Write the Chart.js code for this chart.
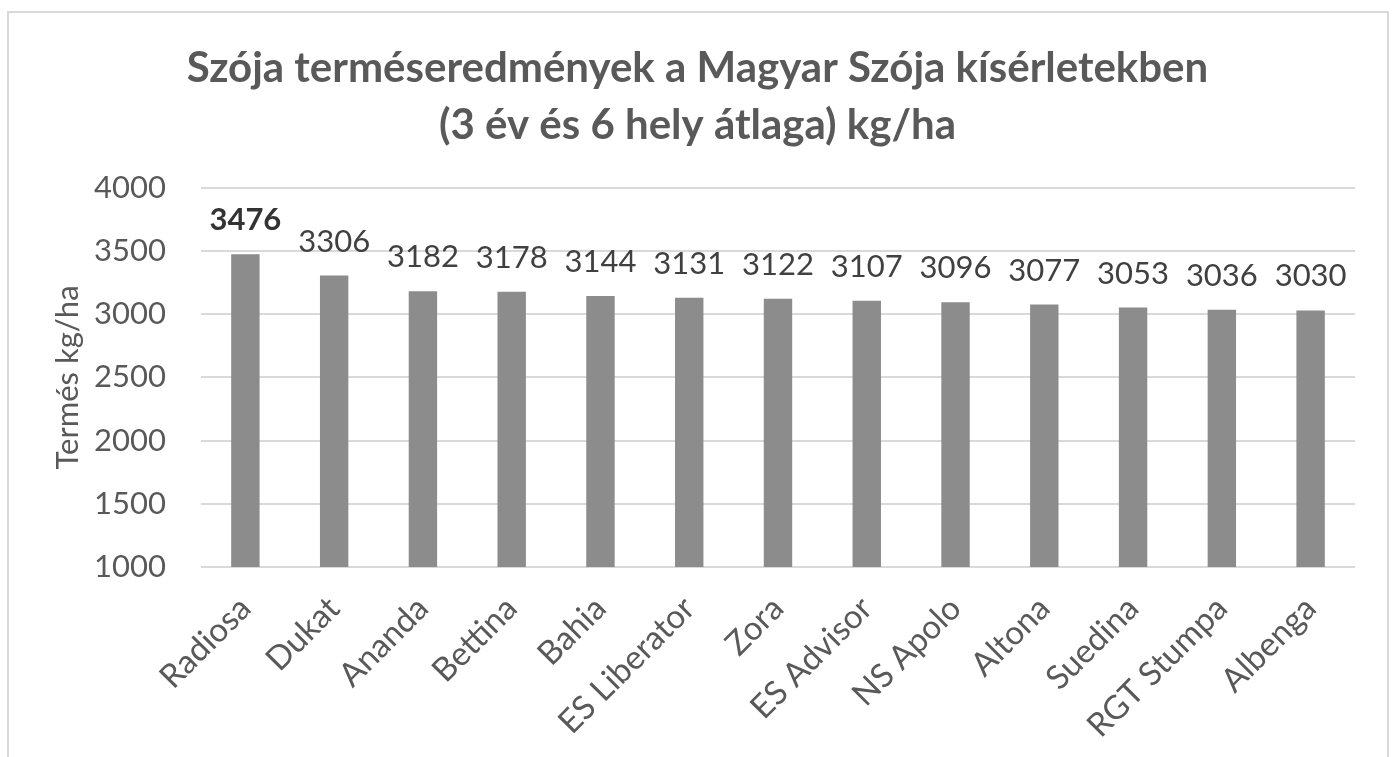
<!DOCTYPE html>
<html>
<head>
<meta charset="utf-8">
<script src="https://cdn.jsdelivr.net/npm/chart.js@4.4.1/dist/chart.umd.min.js"></script>
<style>
    html, body { margin: 0; padding: 0; background: #fff; }
    .frame { position: absolute; left: 7px; top: 11px; width: 1378px; height: 800px; border: 2px solid #d9d9d9; }
    .chart-box { position: absolute; left: 0; top: 0; width: 1395px; height: 757px; }
</style>
</head>
<body>
<div class="frame"></div>
<div class="chart-box"><canvas id="yieldChart"></canvas></div>
<script>
// --- Data ---
const varieties = ['Radiosa', 'Dukat', 'Ananda', 'Bettina', 'Bahia', 'ES Liberator', 'Zora',
    'ES Advisor', 'NS Apolo', 'Altona', 'Suedina', 'RGT Stumpa', 'Albenga'];
const yields = [3476, 3306, 3182, 3178, 3144, 3131, 3122, 3107, 3096, 3077, 3053, 3036, 3030];
const yTicks = [1000, 1500, 2000, 2500, 3000, 3500, 4000];
const titleLines = ['Szója terméseredmények a Magyar Szója kísérletekben', '(3 év és 6 hely átlaga) kg/ha'];
const yTitle = 'Termés kg/ha';

Chart.defaults.font.family = 'Lato, "Open Sans", sans-serif';
Chart.defaults.color = '#595959';

// --- Value labels above bars ---
const valueLabels = {
    id: 'valueLabels',
    afterDatasetsDraw(chart) {
        const ctx = chart.ctx;
        const meta = chart.getDatasetMeta(0);
        ctx.save();
        ctx.textAlign = 'center';
        ctx.textBaseline = 'middle';
        meta.data.forEach((bar, i) => {
            ctx.font = (i === 0 ? 'bold ' : '') + '31px Lato, "Open Sans", sans-serif';
            ctx.fillStyle = i === 0 ? '#333333' : '#404040';
            ctx.fillText(String(yields[i]), bar.x, bar.y - 34);
        });
        ctx.restore();
    }
};

new Chart(document.getElementById('yieldChart'), {
    type: 'bar',
    data: {
        labels: varieties,
        datasets: [{
            data: yields,
            backgroundColor: '#8c8c8c',
            barPercentage: 0.32,
            categoryPercentage: 1
        }]
    },
    options: {
        responsive: true,
        maintainAspectRatio: false,
        animation: false,
        layout: { padding: { left: 40, right: 40, top: 0, bottom: 0 } },
        plugins: {
            legend: { display: false },
            tooltip: { enabled: false },
            title: {
                display: true,
                text: titleLines,
                color: '#595959',
                font: { size: 42, weight: 'bold', lineHeight: 1.38 },
                padding: { top: 39, bottom: 33 }
            }
        },
        scales: {
            x: {
                grid: { display: false },
                border: { display: false },
                ticks: { color: '#595959', font: { size: 33 }, minRotation: 45, maxRotation: 45, padding: 14 },
                afterFit: (scale) => { scale.height = 190; }
            },
            y: {
                min: 1000,
                max: 4000,
                afterBuildTicks: (scale) => { scale.ticks = yTicks.map(v => ({ value: v })); },
                grid: { color: '#d9d9d9', lineWidth: 2, drawTicks: false },
                border: { display: false },
                ticks: { color: '#595959', font: { size: 31 }, padding: 35, callback: (v) => String(v) },
                title: { display: true, text: yTitle, color: '#595959', font: { size: 31 }, padding: { top: 9 } },
                afterFit: (scale) => { scale.width = 161; }
            }
        }
    },
    plugins: [valueLabels]
});
</script>
</body>
</html>
